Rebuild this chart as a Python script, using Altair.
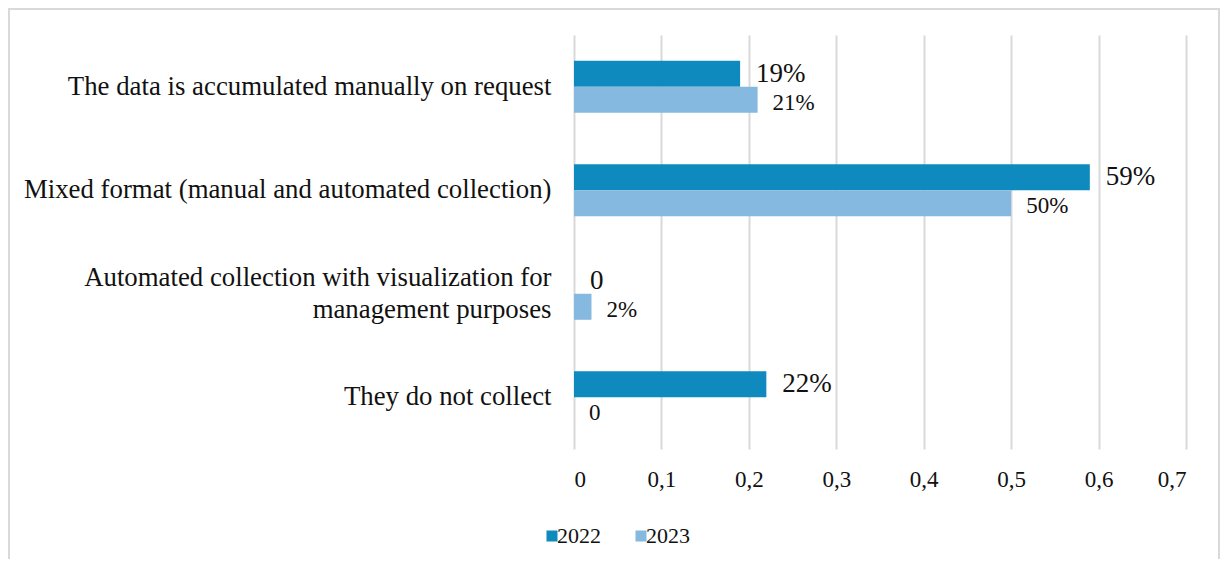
import altair as alt
import pandas as pd

categories = [
    "The data is accumulated manually on request",
    "Mixed format (manual and automated collection)",
    "Automated collection with visualization for management purposes",
    "They do not collect",
]
years = ["2022", "2023"]
values_2022 = [0.19, 0.59, 0.0, 0.22]
values_2023 = [0.21, 0.50, 0.02, 0.0]
x_ticks = [0, 0.1, 0.2, 0.3, 0.4, 0.5, 0.6, 0.7]

rows = []
for c, v in zip(categories, values_2022):
    rows.append({"category": c, "year": "2022", "value": v})
for c, v in zip(categories, values_2023):
    rows.append({"category": c, "year": "2023", "value": v})
df = pd.DataFrame(rows)

FONT = "Liberation Serif"
TXT = "#111111"
DARK = "#0e8abf"
LIGHT = "#85b9df"

TWO_LINE = "Automated collection with visualization for management purposes"
ylab = (f"datum.label == '{TWO_LINE}' ? "
        "['Automated collection with visualization for', 'management purposes'] : datum.label")

y_enc = alt.Y(
    "category:N",
    sort=categories,
    scale=alt.Scale(paddingInner=0.497, paddingOuter=0.2485),
    axis=alt.Axis(
        title=None, ticks=False, domain=False, labelFont=FONT, labelFontSize=26.8,
        labelColor=TXT, labelPadding=23, labelLimit=600, labelExpr=ylab,
        labelLineHeight=32,
        labelOffset={"condition": {"test": f"datum.value == '{TWO_LINE}'", "value": -16}, "value": 0},
    ),
)
x_enc = alt.X(
    "value:Q",
    scale=alt.Scale(domain=[0, 0.7], nice=False),
    axis=alt.Axis(
        title=None, values=x_ticks, domain=False, ticks=False,
        labelFont=FONT, labelFontSize=23, labelColor=TXT, labelPadding=19,
        gridColor="#d9d9d9", gridWidth=2,
        labelExpr="datum.value == 0 ? '0' : replace(format(datum.value, '.1f'), '.', ',')",
    ),
)
yoff = alt.YOffset("year:N", sort=years, scale=alt.Scale(paddingInner=0, paddingOuter=0))

base = alt.Chart(df)

bars = base.mark_bar().encode(
    y=y_enc,
    x=x_enc,
    yOffset=yoff,
    color=alt.Color(
        "year:N", sort=years,
        scale=alt.Scale(domain=years, range=[DARK, LIGHT]),
        legend=alt.Legend(
            title=None, orient="none", direction="horizontal", legendX=-33, legendY=490,
            symbolType="square", symbolSize=121, symbolStrokeWidth=0,
            labelFont=FONT, labelFontSize=22, labelColor=TXT, labelOffset={"expr": "-6"},
            columnPadding=29,
        ),
    ),
)

lab = base.transform_calculate(
    label="datum.value == 0 ? '0' : format(datum.value, '.0%')"
)

text22 = lab.transform_filter("datum.year == '2022'").mark_text(
    align="left", baseline="middle", dx=16, font=FONT, fontSize=27, color=TXT
).encode(y=alt.Y("category:N", sort=categories), x="value:Q", yOffset=yoff, text="label:N")

text23 = lab.transform_filter("datum.year == '2023'").mark_text(
    align="left", baseline="middle", dx=15, dy=3, font=FONT, fontSize=23, color=TXT
).encode(y=alt.Y("category:N", sort=categories), x="value:Q", yOffset=yoff, text="label:N")

border = alt.Chart(pd.DataFrame({"k": [0]})).mark_rect(
    fill=None, stroke="#d9d9d9", strokeWidth=2, clip=False
).encode(
    x=alt.value(-565), x2=alt.value(645), y=alt.value(-26), y2=alt.value(540)
)

chart = alt.layer(border, bars, text22, text23).properties(
    width=612, height=414,
    autosize=alt.AutoSizeParams(type="none"),
    padding={"left": 566, "top": 27, "right": 34, "bottom": 110},
).configure_view(stroke=None).resolve_scale(y="shared")

chart.save("out.html", embed_options={"renderer": "svg", "actions": False})
